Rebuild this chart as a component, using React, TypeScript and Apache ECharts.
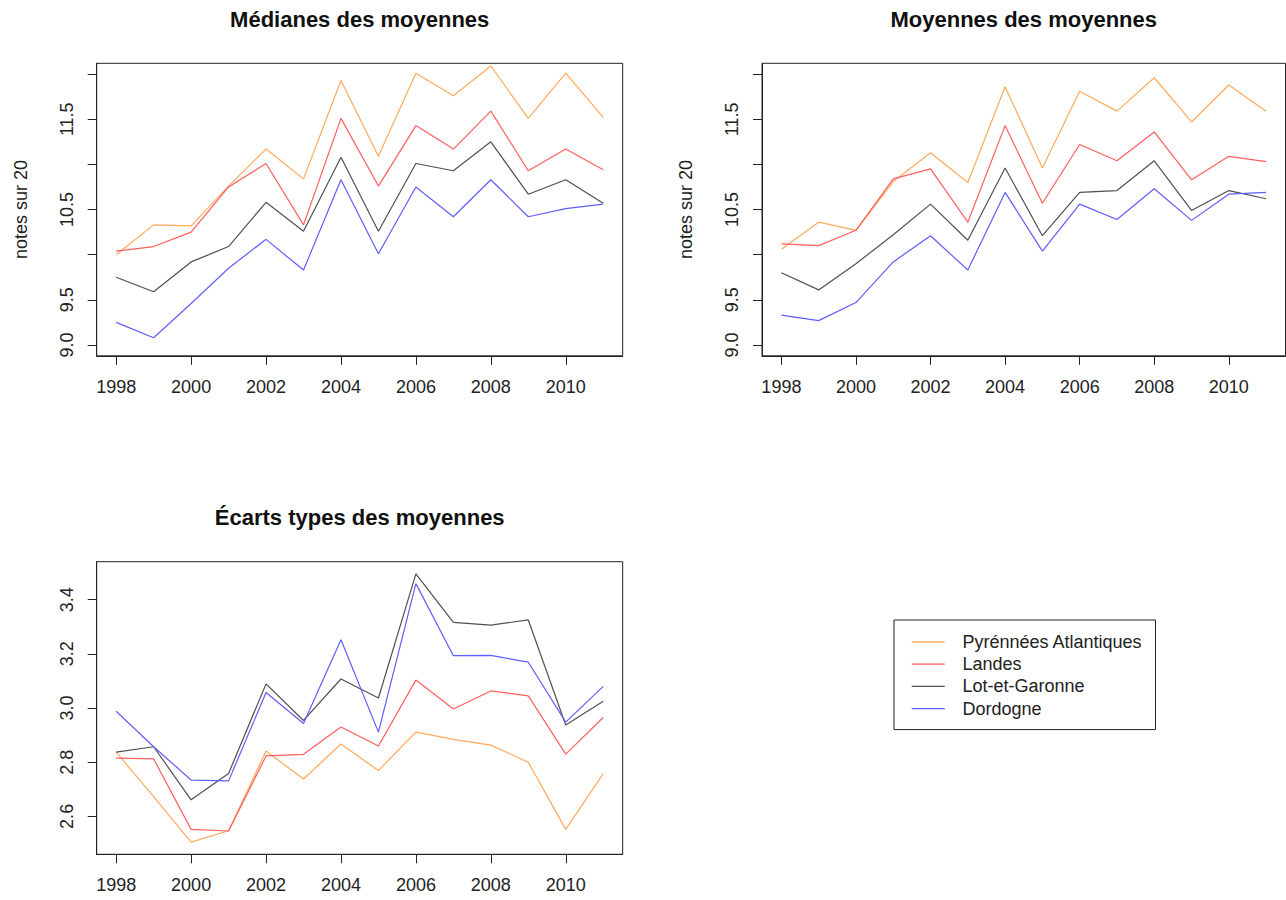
import React, { useEffect, useRef } from "react";
import * as echarts from "echarts";

const years = [1998, 1999, 2000, 2001, 2002, 2003, 2004, 2005, 2006, 2007, 2008, 2009, 2010, 2011];
const xTickYears = [1998, 2000, 2002, 2004, 2006, 2008, 2010];
const seriesNames = ["Pyrénnées Atlantiques", "Landes", "Lot-et-Garonne", "Dordogne"];
const seriesColors = ["#FFA95C", "#FF5E5E", "#505050", "#5E5EFF"];
const panelTitles = ["Médianes des moyennes", "Moyennes des moyennes", "Écarts types des moyennes"];
const yAxisName = "notes sur 20";

const noteTicks = [9, 9.5, 10, 10.5, 11, 11.5, 12];
const noteLabels = [9, 9.5, 10.5, 11.5];
const sdTicks = [2.6, 2.8, 3.0, 3.2, 3.4];

// Médianes des moyennes
const medPyr = [10.0, 10.33, 10.32, 10.76, 11.17, 10.84, 11.93, 11.09, 12.01, 11.76, 12.09, 11.51, 12.01, 11.52];
const medLandes = [10.04, 10.09, 10.25, 10.75, 11.01, 10.33, 11.51, 10.76, 11.43, 11.17, 11.59, 10.93, 11.17, 10.94];
const medLot = [9.75, 9.59, 9.92, 10.09, 10.58, 10.26, 11.08, 10.26, 11.01, 10.93, 11.25, 10.67, 10.83, 10.57];
const medDord = [9.25, 9.08, 9.46, 9.85, 10.17, 9.83, 10.83, 10.01, 10.75, 10.42, 10.83, 10.42, 10.51, 10.56];

// Moyennes des moyennes
const moyPyr = [10.06, 10.36, 10.27, 10.81, 11.13, 10.8, 11.86, 10.96, 11.81, 11.59, 11.96, 11.47, 11.88, 11.59];
const moyLandes = [10.12, 10.1, 10.27, 10.84, 10.95, 10.36, 11.43, 10.57, 11.22, 11.04, 11.36, 10.83, 11.09, 11.03];
const moyLot = [9.8, 9.61, 9.9, 10.22, 10.56, 10.16, 10.96, 10.21, 10.69, 10.71, 11.04, 10.49, 10.71, 10.62];
const moyDord = [9.33, 9.27, 9.47, 9.92, 10.21, 9.83, 10.69, 10.04, 10.56, 10.39, 10.73, 10.38, 10.67, 10.69];

// Écarts types des moyennes
const sdPyr = [2.837, 2.673, 2.505, 2.547, 2.841, 2.738, 2.867, 2.769, 2.911, 2.884, 2.863, 2.8, 2.552, 2.758];
const sdLandes = [2.815, 2.812, 2.552, 2.546, 2.823, 2.829, 2.93, 2.86, 3.103, 2.996, 3.063, 3.045, 2.83, 2.965];
const sdLot = [2.837, 2.857, 2.661, 2.758, 3.089, 2.954, 3.107, 3.037, 3.495, 3.316, 3.306, 3.325, 2.937, 3.025];
const sdDord = [2.988, 2.857, 2.734, 2.731, 3.057, 2.943, 3.252, 2.911, 3.459, 3.193, 3.194, 3.169, 2.948, 3.08];

const panelData = [
  [medPyr, medLandes, medLot, medDord],
  [moyPyr, moyLandes, moyLot, moyDord],
  [sdPyr, sdLandes, sdLot, sdDord],
];

const FONT = "'Liberation Sans', Arial, Helvetica, sans-serif";

export default function App() {
  const ref = useRef<HTMLDivElement>(null);

  useEffect(() => {
    if (!ref.current) return;
    const chart = echarts.init(ref.current, undefined, { renderer: "svg" });

    const grids = [
      { left: 96.7, top: 63.3, width: 526, height: 292.5 },
      { left: 762, top: 63.3, width: 523.5, height: 292.5 },
      { left: 96.7, top: 561.7, width: 526, height: 292.6 },
    ];

    const xAxes = grids.map((_, i) => ({
      type: "value",
      gridIndex: i,
      min: 1997.48,
      max: 2011.52,
      splitLine: { show: false },
      axisLine: { show: true, lineStyle: { color: "#222", width: 1 } },
      axisTick: {
        show: true,
        inside: false,
        length: 9,
        lineStyle: { color: "#222", width: 1 },
        customValues: xTickYears,
      },
      axisLabel: {
        show: true,
        margin: 22,
        color: "#222",
        fontFamily: FONT,
        fontSize: 18,
        customValues: xTickYears,
        formatter: (v: number) => String(v),
      },
    }));

    const yAxes = grids.map((_, i) => {
      const isSd = i === 2;
      return {
        type: "value",
        gridIndex: i,
        min: isSd ? 2.46 : 8.88,
        max: isSd ? 3.54 : 12.12,
        splitLine: { show: false },
        name: isSd ? "" : yAxisName,
        nameLocation: "middle",
        nameGap: 67,
        nameRotate: 90,
        nameTextStyle: { fontFamily: FONT, fontSize: 18, color: "#222" },
        axisLine: { show: true, lineStyle: { color: "#222", width: 1 } },
        axisTick: {
          show: true,
          inside: false,
          length: 9,
          lineStyle: { color: "#222", width: 1 },
          customValues: isSd ? sdTicks : noteTicks,
        },
        axisLabel: {
          show: true,
          rotate: 90,
          margin: 21,
          color: "#222",
          fontFamily: FONT,
          fontSize: 18,
          customValues: isSd ? sdTicks : noteLabels,
          formatter: (v: number) => v.toFixed(1),
        },
      };
    });

    const series: any[] = [];
    panelData.forEach((panel, gi) => {
      panel.forEach((vals, si) => {
        series.push({
          type: "line",
          name: seriesNames[si],
          xAxisIndex: gi,
          yAxisIndex: gi,
          data: years.map((y, k) => [y, vals[k]]),
          symbol: "none",
          showSymbol: false,
          lineStyle: { color: seriesColors[si], width: 1.2 },
          itemStyle: { color: seriesColors[si] },
          z: 2,
        });
      });
    });

    const titleCenters = [
      grids[0].left + grids[0].width / 2,
      grids[1].left + grids[1].width / 2,
      grids[2].left + grids[2].width / 2,
    ];
    const titleTops = [8, 8, 506.5];

    chart.setOption({
      animation: false,
      backgroundColor: "#ffffff",
      title: panelTitles.map((t, i) => ({
        text: t,
        left: titleCenters[i],
        top: titleTops[i],
        textAlign: "center",
        padding: 0,
        textStyle: { fontFamily: FONT, fontSize: 22, fontWeight: "bold", color: "#111" },
      })),
      grid: grids.map((g) => ({
        ...g,
        show: true,
        borderColor: "#222",
        borderWidth: 1,
        backgroundColor: "transparent",
        containLabel: false,
      })),
      xAxis: xAxes,
      yAxis: yAxes,
      legend: {
        show: true,
        orient: "vertical",
        left: 894,
        top: 620,
        data: seriesNames,
        icon: "rect",
        itemWidth: 33,
        itemHeight: 1.3,
        itemGap: 2.2,
        padding: [12, 13, 11, 17.7],
        borderColor: "#222",
        borderWidth: 1,
        borderRadius: 0,
        selectedMode: false,
        textStyle: {
          fontFamily: FONT,
          fontSize: 18,
          color: "#222",
          lineHeight: 20,
          padding: [0, 0, 0, 12.7],
        },
      },
      series,
    });

    return () => {
      chart.dispose();
    };
  }, []);

  return (
    <div
      ref={ref}
      style={{ position: "absolute", left: 0, top: 0, width: 1286, height: 900, background: "#fff" }}
    />
  );
}
